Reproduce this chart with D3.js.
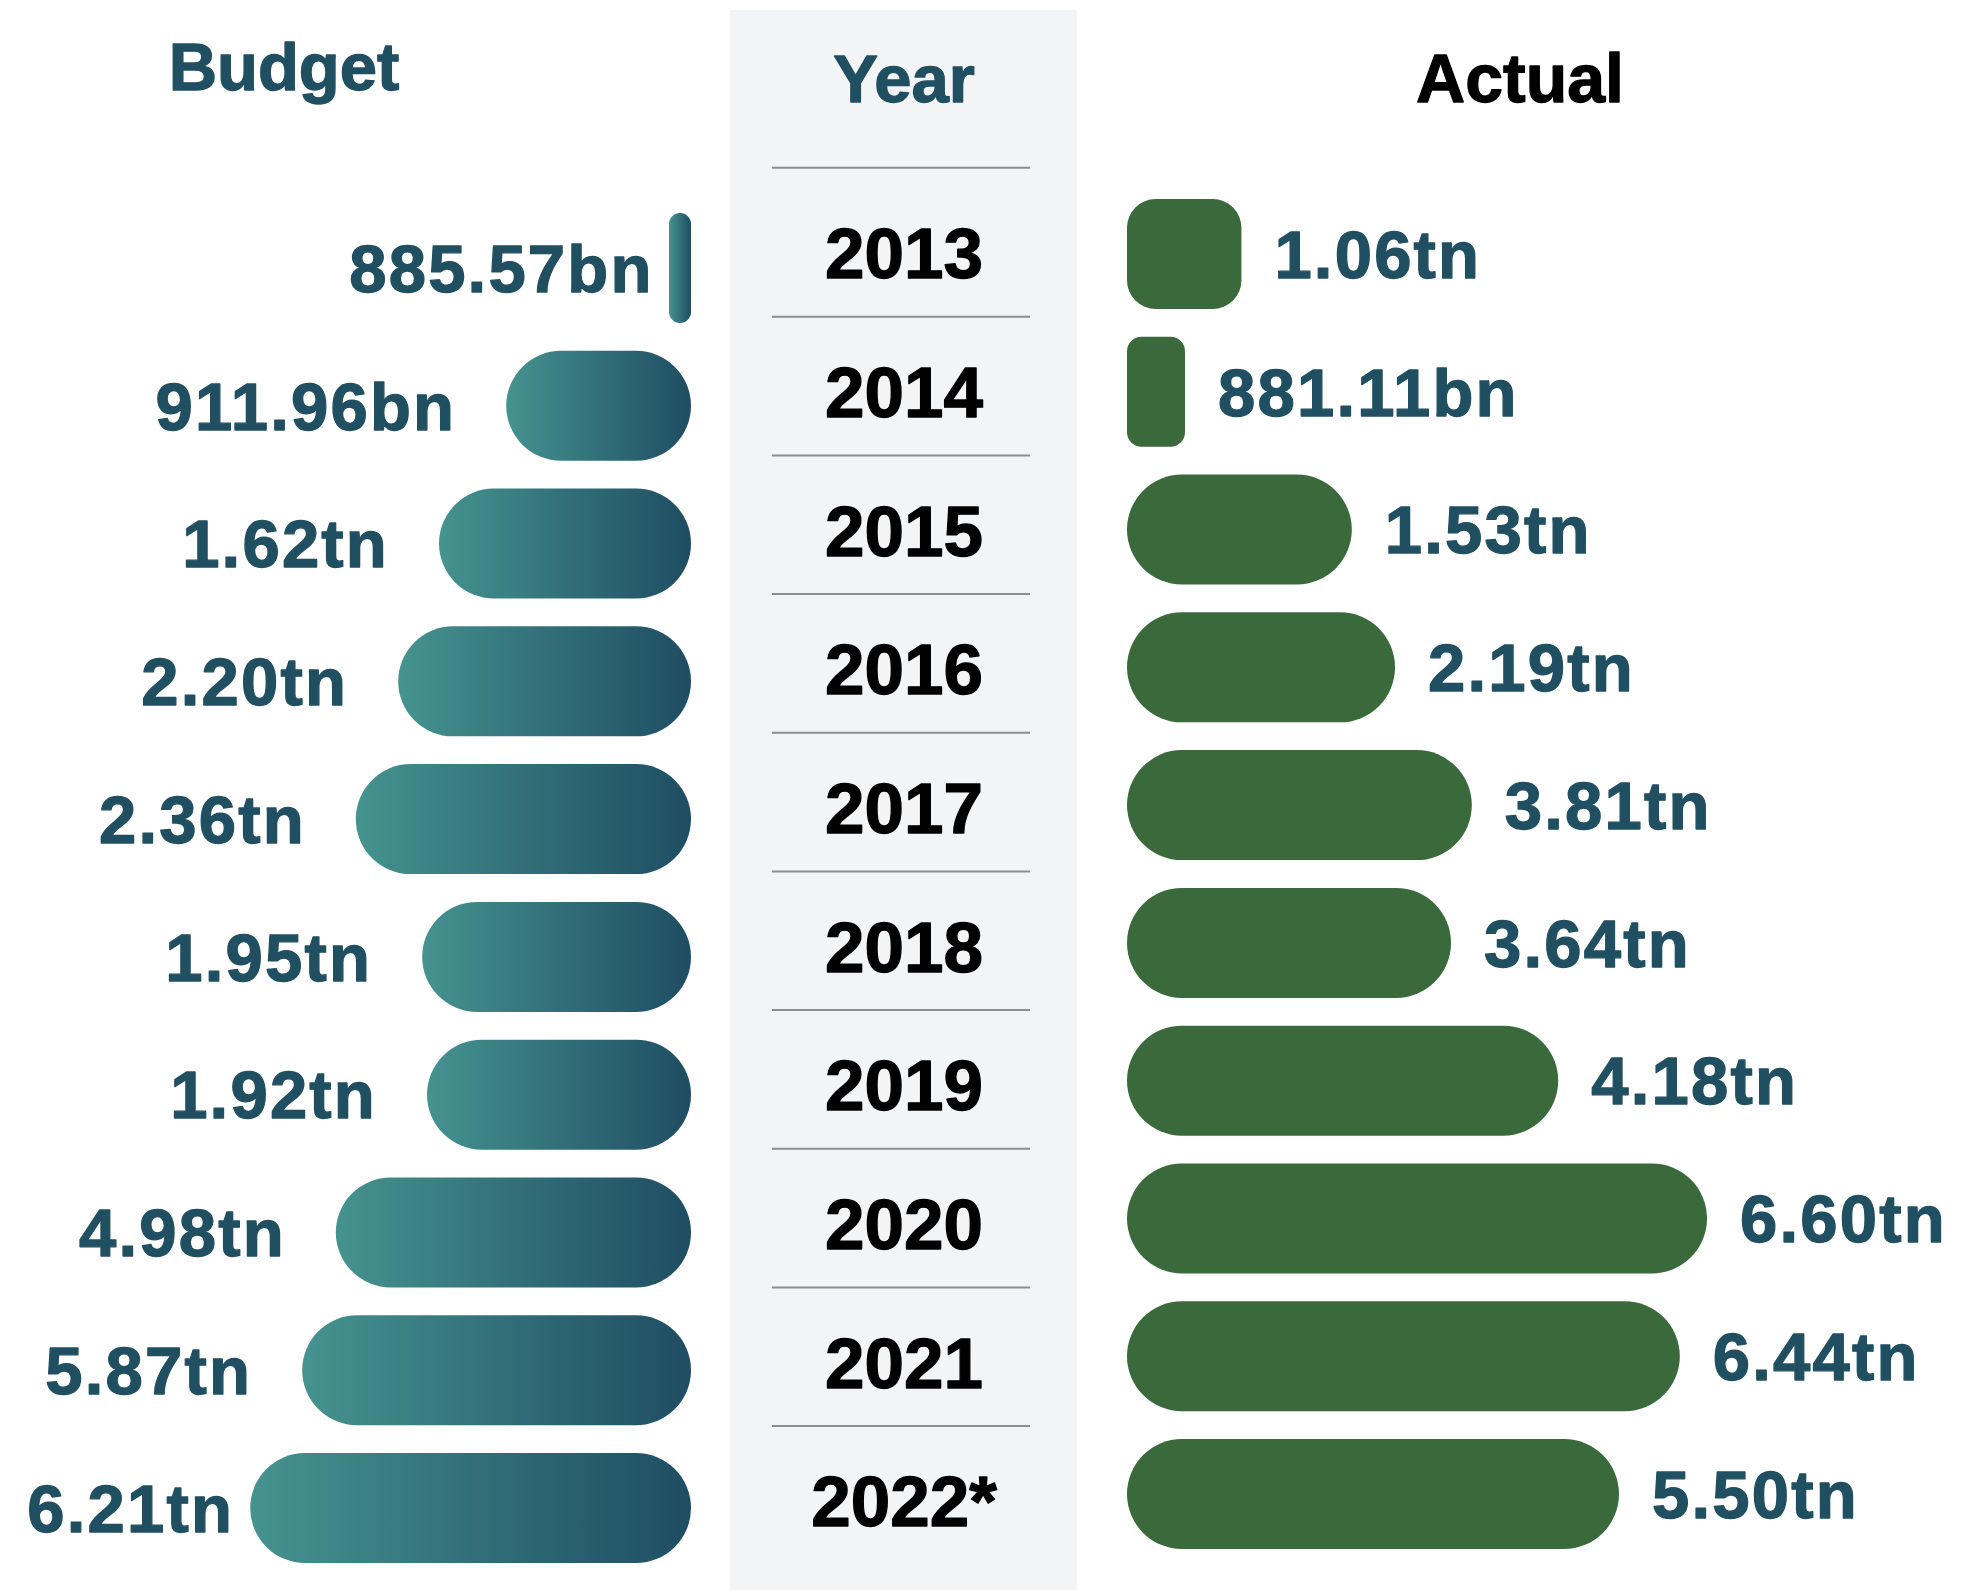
<!DOCTYPE html>
<html>
<head>
<meta charset="utf-8">
<script src="https://cdn.jsdelivr.net/npm/d3@7"></script>
<style>
  html, body { margin: 0; padding: 0; background: #ffffff; }
  svg { display: block; }
  text { font-family: "Liberation Sans", Arial, Helvetica, sans-serif; font-weight: bold; }
</style>
</head>
<body>
<svg id="chart" width="1970" height="1590"></svg>
<script>
// ---- Data ----
const years = ["2013", "2014", "2015", "2016", "2017", "2018", "2019", "2020", "2021", "2022*"];
const budgetLabels = ["885.57bn", "911.96bn", "1.62tn", "2.20tn", "2.36tn", "1.95tn", "1.92tn", "4.98tn", "5.87tn", "6.21tn"];
const actualLabels = ["1.06tn", "881.11bn", "1.53tn", "2.19tn", "3.81tn", "3.64tn", "4.18tn", "6.60tn", "6.44tn", "5.50tn"];
// Bar lengths as drawn in the picture (the infographic's bars, in tn-equivalent units)
const budgetBars = [0.275, 2.31, 3.15, 3.66, 4.19, 3.36, 3.30, 4.44, 4.86, 5.51];
const actualBars = [1.43, 0.725, 2.81, 3.35, 4.31, 4.05, 5.39, 7.25, 6.91, 6.15];
const titles = { budget: "Budget", year: "Year", actual: "Actual" };

// ---- Layout ----
const W = 1970, H = 1590;
const svg = d3.select("#chart");
const barH = 110;
const budgetRight = 691, actualLeft = 1127;
const panel = { x: 730, y: 10, w: 347, h: 1580 };
const lineX = [772, 1030];
const labelColor = "#214f62";

const x = d3.scaleLinear().domain([0, 7.5]).range([0, 600]);
const yBudget = d3.scalePoint().domain(years).range([268, 1508]);
const yActual = d3.scalePoint().domain(years).range([254, 1494]);
const yYear = d3.scalePoint().domain(years).range([253, 1501]);

// gradient
const defs = svg.append("defs");
const grad = defs.append("linearGradient").attr("id", "budgetGrad")
  .attr("x1", "0%").attr("x2", "100%").attr("y1", "0%").attr("y2", "0%");
grad.append("stop").attr("offset", "0%").attr("stop-color", "#45938f");
grad.append("stop").attr("offset", "100%").attr("stop-color", "#1f4d63");

// central panel
svg.append("rect").attr("x", panel.x).attr("y", panel.y).attr("width", panel.w).attr("height", panel.h)
  .attr("fill", "#f3f4f6");

// separator lines
const step = yYear.step();
const lineYs = [yYear(years[0]) - step * 0.615].concat(years.slice(0, -1).map(d => yYear(d) + step * 0.46));
svg.append("g").selectAll("line").data(lineYs).join("line")
  .attr("x1", lineX[0]).attr("x2", lineX[1])
  .attr("y1", d => d).attr("y2", d => d)
  .attr("stroke", "#8d8d8d").attr("stroke-width", 2);

// titles
function heavy(sel, color) {
  return sel.attr("fill", color).attr("stroke", color).attr("stroke-width", 1.3)
    .attr("stroke-linejoin", "round").attr("paint-order", "stroke");
}
heavy(svg.append("text").attr("x", 284).attr("y", 90).attr("text-anchor", "middle")
  .attr("font-size", 67).text(titles.budget), labelColor);
heavy(svg.append("text").attr("x", 904).attr("y", 102).attr("text-anchor", "middle")
  .attr("font-size", 67).text(titles.year), labelColor);
heavy(svg.append("text").attr("x", 1520).attr("y", 102).attr("text-anchor", "middle")
  .attr("font-size", 68).text(titles.actual), "#000000");

function radius(w) {
  if (w < 30) return w / 2;
  if (w < 150) return w / 4;
  return barH / 2;
}

const fsLabel = 67, fsYear = 71;

// year labels
heavy(svg.append("g").selectAll("text").data(years).join("text")
  .attr("x", 904).attr("y", d => yYear(d) + 0.358 * fsYear)
  .attr("text-anchor", "middle").attr("font-size", fsYear)
  .text(d => d), "#000000");

// budget bars
const bData = years.map((y, i) => ({ year: y, v: budgetBars[i], label: budgetLabels[i] }));
svg.append("g").selectAll("rect").data(bData).join("rect")
  .attr("x", d => budgetRight - x(d.v))
  .attr("y", d => yBudget(d.year) - barH / 2)
  .attr("width", d => x(d.v))
  .attr("height", barH)
  .attr("rx", d => radius(x(d.v))).attr("ry", d => Math.min(barH / 2, radius(x(d.v))))
  .attr("fill", "url(#budgetGrad)");

// budget labels
const bLabels = heavy(svg.append("g").selectAll("text").data(bData).join("text")
  .attr("text-anchor", "end").attr("font-size", fsLabel)
  .attr("letter-spacing", 2.2)
  .attr("y", d => yBudget(d.year) + 0.355 * fsLabel)
  .text(d => d.label), labelColor);
bLabels.each(function(d) {
  const wText = this.getComputedTextLength();
  const bw = x(d.v);
  let gap = Math.min(50, bw * 0.7);
  let xr = budgetRight - bw - gap;
  if (xr - wText < 15) xr = budgetRight - bw - 16;
  d3.select(this).attr("x", xr);
});

// actual bars
const aData = years.map((y, i) => ({ year: y, v: actualBars[i], label: actualLabels[i] }));
svg.append("g").selectAll("rect").data(aData).join("rect")
  .attr("x", actualLeft)
  .attr("y", d => yActual(d.year) - barH / 2)
  .attr("width", d => x(d.v))
  .attr("height", barH)
  .attr("rx", d => radius(x(d.v))).attr("ry", d => Math.min(barH / 2, radius(x(d.v))))
  .attr("fill", "#3a6a3c");

// actual labels
heavy(svg.append("g").selectAll("text").data(aData).join("text")
  .attr("x", d => actualLeft + x(d.v) + 33)
  .attr("y", d => yActual(d.year) + 0.355 * fsLabel)
  .attr("text-anchor", "start").attr("font-size", fsLabel)
  .attr("letter-spacing", 2.2)
  .text(d => d.label), labelColor);
</script>
</body>
</html>
